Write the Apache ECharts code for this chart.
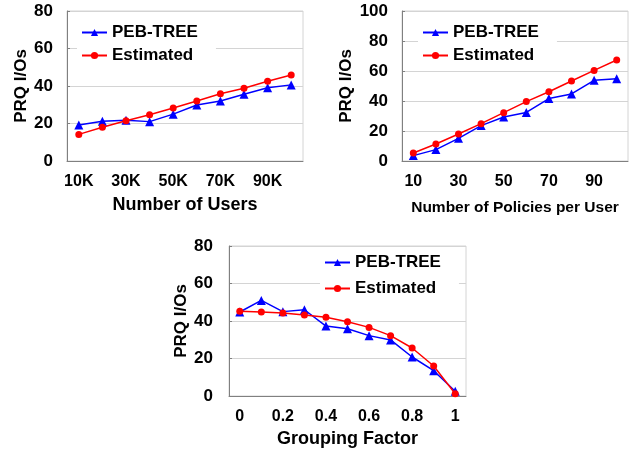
<!DOCTYPE html>
<html><head><meta charset="utf-8">
<script src="https://cdn.jsdelivr.net/npm/echarts@6/dist/echarts.min.js"></script>
<style>html,body{margin:0;padding:0;background:#fff}#c{width:641px;height:455px}</style>
</head><body><div id="c"></div>
<script>
var usersCats = ['10K','20K','30K','40K','50K','60K','70K','80K','90K','100K'];
var usersPeb = [19.2,21.2,21.7,21.0,25.0,29.9,32.0,35.6,39.1,40.6];
var usersEst = [14.2,18.0,21.5,24.7,28.3,32.0,35.9,38.8,42.5,45.9];

var polCats = ['10','20','30','40','50','60','70','80','90','100'];
var polPeb = [3.6,7.6,15.1,23.6,29.3,32.4,41.6,44.7,53.8,54.9];
var polEst = [5.3,11.3,18.0,24.9,32.2,39.6,46.2,53.3,60.4,67.3];

var grpCats = ['0','0.1','0.2','0.3','0.4','0.5','0.6','0.7','0.8','0.9','1'];
var grpPeb = [44.8,51.0,45.0,46.0,37.3,35.9,32.2,29.9,20.8,13.5,2.5];
var grpEst = [45.2,44.8,44.3,43.2,42.0,39.6,36.6,32.2,25.6,16.0,1.2];

var FONT = 'Liberation Sans, Arial, sans-serif';
var BLUE = '#0000ff', RED = '#ff0000';

function xAxis(gi, cats, name, nameSize, nameGap) {
  return {
    type: 'category', gridIndex: gi, data: cats, boundaryGap: true,
    axisLine: {lineStyle: {color: '#808080', width: 1}},
    axisTick: {inside: true, length: 6, lineStyle: {color: '#808080'}},
    axisLabel: {interval: 1, margin: 13, color: '#000', fontSize: 16, fontWeight: 'bold', fontFamily: FONT},
    splitLine: {show: false},
    name: name, nameLocation: 'middle', nameGap: nameGap,
    nameTextStyle: {color: '#000', fontSize: nameSize, fontWeight: 'bold', fontFamily: FONT}
  };
}
function yAxis(gi, max, interval, nameGap, margin) {
  return {
    type: 'value', gridIndex: gi, min: 0, max: max, interval: interval,
    axisLine: {show: true, lineStyle: {color: '#808080', width: 1}},
    axisTick: {show: true, inside: true, length: 3, lineStyle: {color: '#808080'}},
    axisLabel: {margin: margin, color: '#000', fontSize: 17, fontWeight: 'bold', fontFamily: FONT},
    splitLine: {show: true, lineStyle: {color: '#d4d4d4', width: 1}},
    name: 'PRQ I/Os', nameLocation: 'middle', nameGap: nameGap,
    nameTextStyle: {color: '#000', fontSize: 17, fontWeight: 'bold', fontFamily: FONT}
  };
}
function series(gi, name, data, color, symbol, size) {
  return {
    type: 'line', name: name, xAxisIndex: gi, yAxisIndex: gi, data: data,
    symbol: symbol, symbolSize: size, showAllSymbol: true,
    lineStyle: {color: color, width: 1.5}, itemStyle: {color: color},
    emphasis: {disabled: true}, animation: false
  };
}
function legend(left, top, gap) {
  return {
    orient: 'vertical', left: left, top: top, itemWidth: 25, itemHeight: 9, itemGap: gap,
    padding: [3, 18, 3, 4], backgroundColor: '#fff',
    data: ['PEB-TREE', 'Estimated'],
    textStyle: {color: '#000', fontSize: 17, fontWeight: 'bold', fontFamily: FONT},
    selectedMode: false
  };
}

var chart = echarts.init(document.getElementById('c'), null, {renderer: 'canvas'});
chart.setOption({
  backgroundColor: '#fff',
  animation: false,
  grid: [
    {left: 67, top: 11, width: 236, height: 150, show: true, borderColor: '#d4d4d4', borderWidth: 1},
    {left: 402, top: 11, width: 226, height: 150, show: true, borderColor: '#d4d4d4', borderWidth: 1},
    {left: 229, top: 246, width: 237, height: 150, show: true, borderColor: '#d4d4d4', borderWidth: 1}
  ],
  xAxis: [
    xAxis(0, usersCats, 'Number of Users', 18, 35),
    xAxis(1, polCats, 'Number of Policies per User', 15.5, 39),
    xAxis(2, grpCats, 'Grouping Factor', 18, 34)
  ],
  yAxis: [
    yAxis(0, 80, 20, 37, 14),
    yAxis(1, 100, 20, 47, 14),
    yAxis(2, 80, 20, 33, 16)
  ],
  legend: [legend(77, 21, 6), legend(418, 21, 6), legend(320, 251, 9)],
  series: [
    series(0, 'PEB-TREE', usersPeb, BLUE, 'triangle', 9),
    series(0, 'Estimated', usersEst, RED, 'circle', 7),
    series(1, 'PEB-TREE', polPeb, BLUE, 'triangle', 9),
    series(1, 'Estimated', polEst, RED, 'circle', 7),
    series(2, 'PEB-TREE', grpPeb, BLUE, 'triangle', 9),
    series(2, 'Estimated', grpEst, RED, 'circle', 7)
  ]
});
</script></body></html>
